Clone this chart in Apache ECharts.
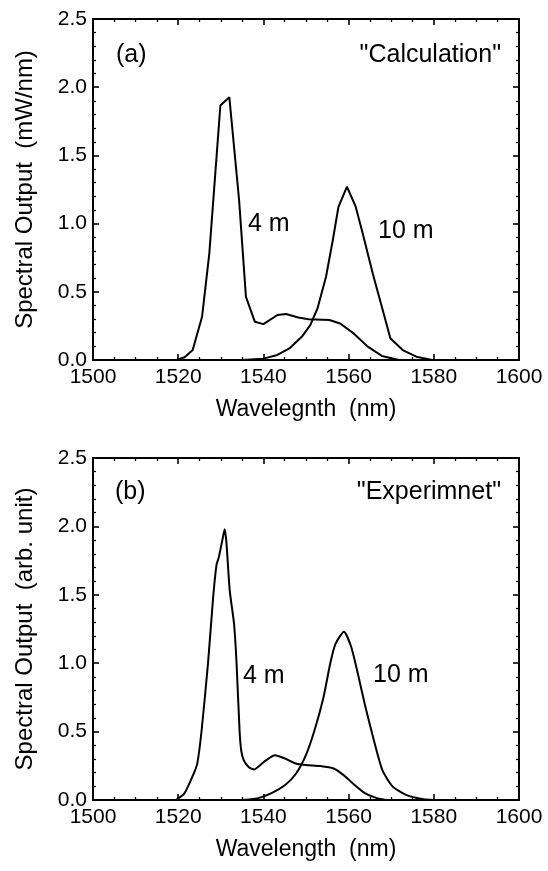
<!DOCTYPE html>
<html><head><meta charset="utf-8">
<script src="https://cdn.jsdelivr.net/npm/echarts@6/dist/echarts.min.js"></script>
<style>html,body{margin:0;padding:0;background:#fff}#c{width:548px;height:871px}</style>
</head><body><div id="c"></div>
<script>
// Wavelength axis ticks (nm) and spectral output ticks
const xTicks = [1500, 1520, 1540, 1560, 1580, 1600];
const yTicks = [0.0, 0.5, 1.0, 1.5, 2.0, 2.5];

// (a) Calculation, 4 m fibre
const calc4m = [[1519.6,0],[1521.5,0.02],[1523.4,0.073],[1525.6,0.317],[1527.3,0.78],[1529.9,1.866],[1532,1.927],[1534.3,1.17],[1535.9,0.463],[1538,0.28],[1540,0.263],[1543.3,0.33],[1545.3,0.337],[1548.2,0.312],[1550.6,0.298],[1555.5,0.293],[1558,0.268],[1561.2,0.195],[1564.5,0.098],[1567.8,0.03],[1571.8,0]];
// (a) Calculation, 10 m fibre
const calc10m = [[1535,0],[1540,0.01],[1543.3,0.037],[1546.1,0.085],[1549,0.17],[1551,0.256],[1552.7,0.378],[1554.7,0.61],[1556.3,0.88],[1557.6,1.12],[1559.6,1.27],[1561.6,1.13],[1563.3,0.93],[1565.7,0.63],[1567.8,0.39],[1569.8,0.16],[1572.7,0.073],[1575.9,0.024],[1579.6,0]];
// (b) Experiment, 4 m fibre
const exp4m = [[1519.5,0],[1521.5,0.05],[1523.6,0.19],[1524.5,0.27],[1525.5,0.51],[1527,1.0],[1528.2,1.48],[1529,1.72],[1529.5,1.77],[1530.5,1.92],[1530.9,1.98],[1531.3,1.89],[1532.1,1.53],[1533.1,1.29],[1533.7,1.0],[1534.4,0.51],[1534.8,0.36],[1535.4,0.29],[1536.6,0.24],[1537.8,0.223],[1540.2,0.28],[1542.7,0.328],[1545.1,0.303],[1547.6,0.267],[1550,0.255],[1553.3,0.248],[1556.5,0.23],[1558.9,0.18],[1561.4,0.11],[1563.8,0.05],[1566.3,0.017],[1568.7,0]];
// (b) Experiment, 10 m fibre
const exp10m = [[1534.6,0],[1538.6,0.012],[1541.9,0.05],[1545.1,0.11],[1547.6,0.19],[1550,0.33],[1552,0.51],[1554.1,0.75],[1555.7,1.0],[1556.9,1.14],[1558.9,1.23],[1560.6,1.12],[1562.2,0.92],[1563.8,0.70],[1565.9,0.44],[1567.9,0.22],[1570.3,0.10],[1573.6,0.036],[1577.6,0.005],[1580,0]];

const FONT = 'Liberation Sans';
const BLACK = '#000';

function xAxis(gridIndex, position, name) {
  const main = position === 'bottom';
  return {
    type: 'value', gridIndex, position,
    min: xTicks[0], max: xTicks[xTicks.length-1], interval: xTicks[1]-xTicks[0],
    name: main ? name : '', nameLocation: 'middle', nameGap: 38,
    nameTextStyle: {fontFamily: FONT, fontSize: 23, color: BLACK},
    axisLine: {show: true, onZero: false, lineStyle: {color: BLACK, width: 2}},
    axisTick: {show: true, inside: true, length: 6, lineStyle: {color: BLACK, width: 1.6}},
    minorTick: {show: true, splitNumber: 4, length: 3, lineStyle: {color: BLACK, width: 1.3}},
    axisLabel: {show: main, margin: 7, fontFamily: FONT, fontSize: 21, color: BLACK,
      formatter: v => String(v)},
    splitLine: {show: false}, minorSplitLine: {show: false}
  };
}
function yAxis(gridIndex, position, name) {
  const main = position === 'left';
  return {
    type: 'value', gridIndex, position,
    min: yTicks[0], max: yTicks[yTicks.length-1], interval: yTicks[1]-yTicks[0],
    name: main ? name : '', nameLocation: 'middle', nameGap: 56,
    nameTextStyle: {fontFamily: FONT, fontSize: 24, color: BLACK},
    axisLine: {show: true, onZero: false, lineStyle: {color: BLACK, width: 2}},
    axisTick: {show: true, inside: true, length: 6, lineStyle: {color: BLACK, width: 1.6}},
    minorTick: {show: true, splitNumber: 5, length: 3, lineStyle: {color: BLACK, width: 1.3}},
    axisLabel: {show: main, margin: 6, fontFamily: FONT, fontSize: 21, color: BLACK,
      formatter: v => v.toFixed(1)},
    splitLine: {show: false}, minorSplitLine: {show: false}
  };
}
function line(data, xi, yi, smooth) {
  return {type: 'line', data, xAxisIndex: xi, yAxisIndex: yi, showSymbol: false, symbol: 'none',
    smooth: smooth, lineStyle: {color: BLACK, width: 2}, silent: true, animation: false};
}
function txt(t, x, y, align, size) {
  return {type: 'text', x, y, style: {text: t, font: size + 'px "' + FONT + '"', fill: BLACK,
    align: align, verticalAlign: 'middle'}};
}

const chart = echarts.init(document.getElementById('c'));
chart.setOption({
  animation: false,
  backgroundColor: '#fff',
  grid: [
    {left: 93, top: 19, width: 426, height: 341},
    {left: 93, top: 458, width: 426, height: 342}
  ],
  xAxis: [
    xAxis(0, 'bottom', 'Wavelegnth  (nm)'), xAxis(0, 'top'),
    xAxis(1, 'bottom', 'Wavelength  (nm)'), xAxis(1, 'top')
  ],
  yAxis: [
    yAxis(0, 'left', 'Spectral Output  (mW/nm)'), yAxis(0, 'right'),
    yAxis(1, 'left', 'Spectral Output  (arb. unit)'), yAxis(1, 'right')
  ],
  series: [
    line(calc4m, 0, 0, false), line(calc10m, 0, 0, false),
    line(exp4m, 2, 2, 0.2), line(exp10m, 2, 2, 0.2)
  ],
  graphic: [
    txt('(a)', 116, 55, 'left', 25),
    txt('"Calculation"', 501, 55, 'right', 25),
    txt('4 m', 248, 224, 'left', 25),
    txt('10 m', 378, 231, 'left', 25),
    txt('(b)', 115, 492, 'left', 25),
    txt('"Experimnet"', 501, 492, 'right', 25),
    txt('4 m', 243, 676, 'left', 25),
    txt('10 m', 373, 675, 'left', 25)
  ]
});
</script></body></html>
